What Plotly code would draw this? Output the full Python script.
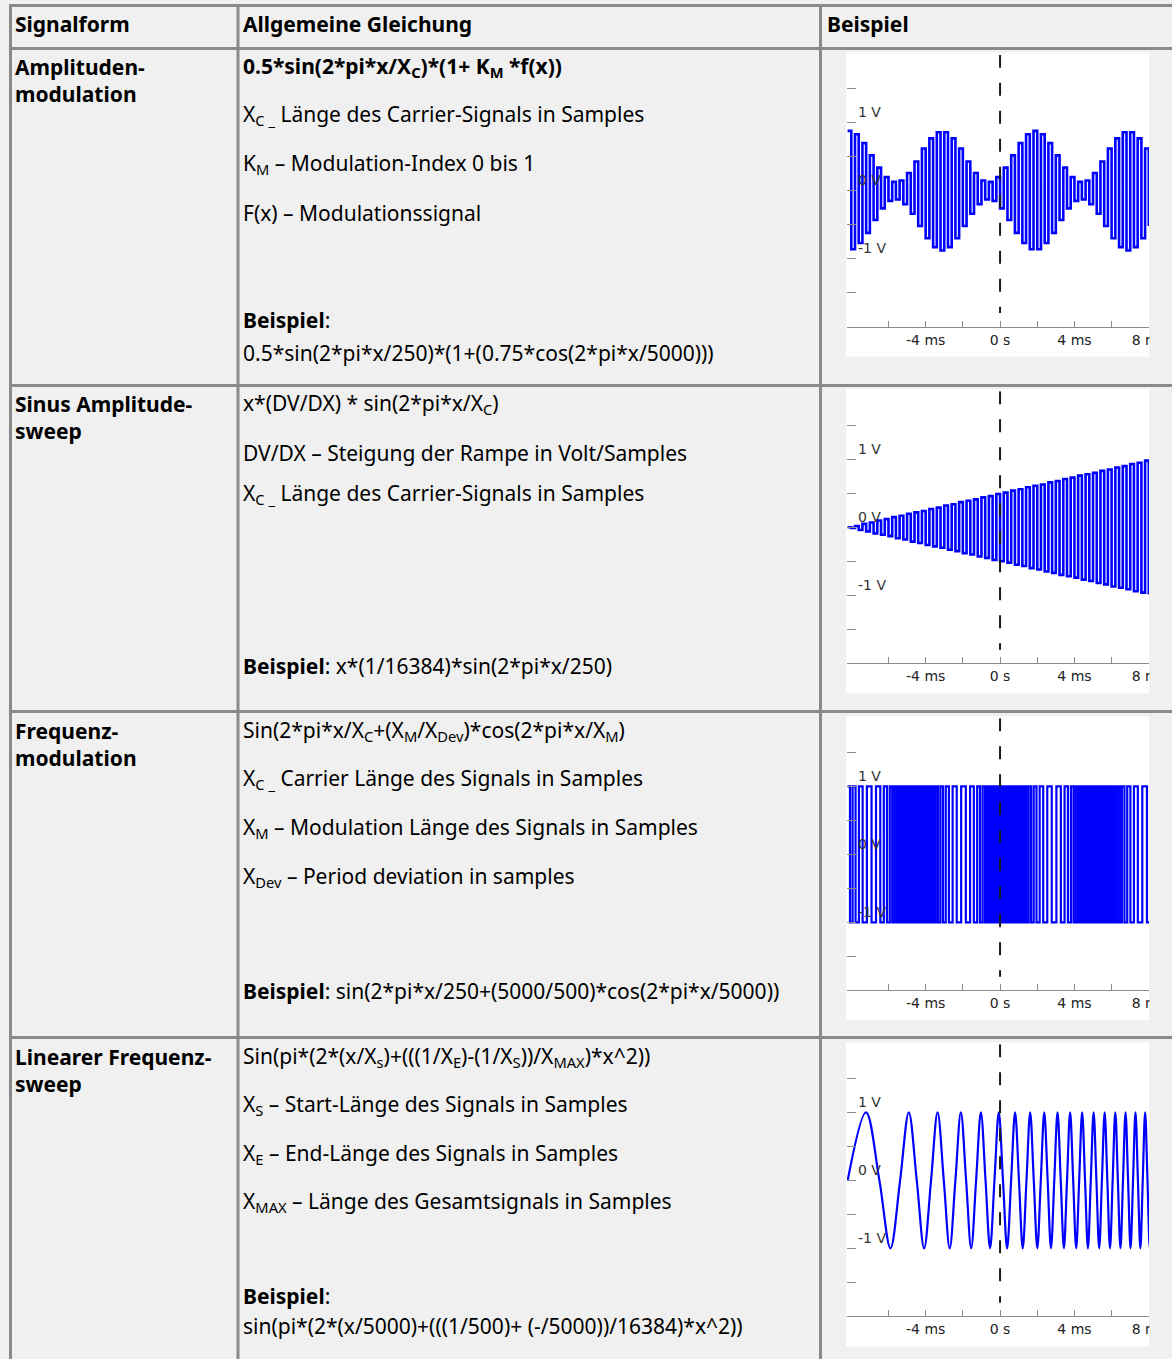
import plotly.graph_objects as go

# ---------------- data ----------------
HEADERS = ["Signalform", "Allgemeine Gleichung", "Beispiel"]
SIGNAL_NAMES = [
    "Amplituden-<br>modulation",
    "Sinus Amplitude-<br>sweep",
    "Frequenz-<br>modulation",
    "Linearer Frequenz-<br>sweep",
]
EQUATION_LINES = [
    [
        "<b>0.5*sin(2*pi*x/X<sub>C</sub>)*(1+ K<sub>M</sub> *f(x))</b>",
        "X<sub>C _</sub> Länge des Carrier-Signals in Samples",
        "K<sub>M</sub> – Modulation-Index 0 bis 1",
        "F(x) – Modulationssignal",
        "<b>Beispiel</b>:",
        "0.5*sin(2*pi*x/250)*(1+(0.75*cos(2*pi*x/5000)))",
    ],
    [
        "x*(DV/DX) * sin(2*pi*x/X<sub>C</sub>)",
        "DV/DX – Steigung der Rampe in Volt/Samples",
        "X<sub>C _</sub> Länge des Carrier-Signals in Samples",
        "<b>Beispiel</b>: x*(1/16384)*sin(2*pi*x/250)",
    ],
    [
        "Sin(2*pi*x/X<sub>C</sub>+(X<sub>M</sub>/X<sub>Dev</sub>)*cos(2*pi*x/X<sub>M</sub>)",
        "X<sub>C _</sub> Carrier Länge des Signals in Samples",
        "X<sub>M</sub> – Modulation Länge des Signals in Samples",
        "X<sub>Dev</sub> – Period deviation in samples",
        "<b>Beispiel</b>: sin(2*pi*x/250+(5000/500)*cos(2*pi*x/5000))",
    ],
    [
        "Sin(pi*(2*(x/X<sub>s</sub>)+(((1/X<sub>E</sub>)-(1/X<sub>S</sub>))/X<sub>MAX</sub>)*x^2))",
        "X<sub>S</sub> – Start-Länge des Signals in Samples",
        "X<sub>E</sub> – End-Länge des Signals in Samples",
        "X<sub>MAX</sub> – Länge des Gesamtsignals in Samples",
        "<b>Beispiel</b>:",
        "sin(pi*(2*(x/5000)+(((1/500)+ (-/5000))/16384)*x^2))",
    ],
]

X_TICK_VALUES = [-8, -6, -4, -2, 0, 2, 4, 6, 8]
X_TICK_LABELS = ["", "", "-4 ms", "", "0 s", "", "4 ms", "", "8 ms"]
Y_TICK_VALUES = [-1.5, -1, -0.5, 0, 0.5, 1, 1.5, 2]
Y_TICK_LABELS = ["", "-1 V", "", "0 V", "", "1 V", "", ""]
X_RANGE_MS = [-8.23, 8.01]
Y_RANGE_V = [-2, 2]
TRIGGER_MS = 0

# uniformly sampled displays (one stroke per 0.2 ms)
SAMPLE_START_MS = -8.2
SAMPLE_STEP_MS = 0.2

AM_VALUES = [
    0.88, -0.86, 0.83, -0.77, 0.70, -0.62, 0.52, -0.43, 0.34, -0.26,
    0.20, -0.15, 0.13, -0.13, 0.15, -0.20, 0.26, -0.34, 0.43, -0.52,
    0.62, -0.70, 0.77, -0.83, 0.86, -0.88, 0.86, -0.83, 0.77, -0.70,
    0.62, -0.52, 0.43, -0.34, 0.26, -0.20, 0.15, -0.13, 0.13, -0.15,
    0.20, -0.26, 0.34, -0.43, 0.52, -0.62, 0.70, -0.77, 0.83, -0.86,
    0.88, -0.86, 0.83, -0.77, 0.70, -0.62, 0.52, -0.43, 0.34, -0.26,
    0.20, -0.15, 0.13, -0.13, 0.15, -0.20, 0.26, -0.34, 0.43, -0.52,
    0.62, -0.70, 0.77, -0.83, 0.86, -0.88, 0.86, -0.83, 0.77, -0.70,
    0.62, -0.52,
]

AMP_SWEEP_VALUES = [
    0.00, -0.01, 0.02, -0.04, 0.05, -0.06, 0.07, -0.09, 0.10, -0.11,
    0.12, -0.13, 0.15, -0.16, 0.17, -0.18, 0.20, -0.21, 0.22, -0.23,
    0.24, -0.26, 0.27, -0.28, 0.29, -0.30, 0.32, -0.33, 0.34, -0.35,
    0.37, -0.38, 0.39, -0.40, 0.41, -0.43, 0.44, -0.45, 0.46, -0.48,
    0.49, -0.50, 0.51, -0.52, 0.54, -0.55, 0.56, -0.57, 0.59, -0.60,
    0.61, -0.62, 0.63, -0.65, 0.66, -0.67, 0.68, -0.70, 0.71, -0.72,
    0.73, -0.74, 0.76, -0.77, 0.78, -0.79, 0.80, -0.82, 0.83, -0.84,
    0.85, -0.87, 0.88, -0.89, 0.90, -0.91, 0.93, -0.94, 0.95, -0.96,
    0.98, -0.99,
]

FM_TIMES = [
    -8.20, -8.07, -7.93, -7.77, -7.59, -7.39, -7.16, -6.91, -6.67, -6.44,
    -6.25, -6.08, -5.93, -5.80, -5.68, -5.56, -5.46, -5.36, -5.26, -5.17,
    -5.08, -4.99, -4.90, -4.82, -4.73, -4.65, -4.57, -4.48, -4.40, -4.32,
    -4.23, -4.14, -4.06, -3.97, -3.87, -3.78, -3.68, -3.57, -3.46, -3.34,
    -3.21, -3.07, -2.92, -2.75, -2.55, -2.33, -2.09, -1.84, -1.61, -1.41,
    -1.23, -1.08, -0.94, -0.81, -0.70, -0.59, -0.48, -0.39, -0.29, -0.20,
    -0.11, -0.02, 0.06, 0.15, 0.23, 0.32, 0.40, 0.48, 0.57, 0.65,
    0.74, 0.83, 0.92, 1.01, 1.11, 1.21, 1.31, 1.42, 1.54, 1.67,
    1.81, 1.96, 2.13, 2.32, 2.54, 2.78, 3.03, 3.27, 3.47, 3.65,
    3.81, 3.95, 4.07, 4.19, 4.30, 4.41, 4.50, 4.60, 4.69, 4.78,
    4.87, 4.95, 5.04, 5.12, 5.21, 5.29, 5.37, 5.46, 5.54, 5.63,
    5.72, 5.81, 5.90, 6.00, 6.10, 6.20, 6.31, 6.43, 6.55, 6.69,
    6.84, 7.01, 7.20, 7.41, 7.65, 7.90, 8.14,
]
FM_LEVELS = [
    1, -1, 1, -1, 1, -1, 1, -1, 1, -1,
    1, -1, 1, -1, 1, -1, 1, -1, 1, -1,
    1, -1, 1, -1, 1, -1, 1, -1, 1, -1,
    1, -1, 1, -1, 1, -1, 1, -1, 1, -1,
    1, -1, 1, -1, 1, -1, 1, -1, 1, -1,
    1, -1, 1, -1, 1, -1, 1, -1, 1, -1,
    1, -1, 1, -1, 1, -1, 1, -1, 1, -1,
    1, -1, 1, -1, 1, -1, 1, -1, 1, -1,
    1, -1, 1, -1, 1, -1, 1, -1, 1, -1,
    1, -1, 1, -1, 1, -1, 1, -1, 1, -1,
    1, -1, 1, -1, 1, -1, 1, -1, 1, -1,
    1, -1, 1, -1, 1, -1, 1, -1, 1, -1,
    1, -1, 1, -1, 1, -1, 1,
]

LIN_SWEEP_TIMES = [
    -8.192, -7.208, -6.489, -5.893, -5.374, -4.907, -4.479, -4.082, -3.710, -3.359,
    -3.025, -2.707, -2.401, -2.108, -1.825, -1.552, -1.287, -1.030, -0.780, -0.537,
    -0.300, -0.068, 0.158, 0.380, 0.596, 0.809, 1.017, 1.221, 1.422, 1.620,
    1.813, 2.004, 2.192, 2.377, 2.560, 2.739, 2.917, 3.091, 3.264, 3.434,
    3.602, 3.769, 3.933, 4.095, 4.255, 4.414, 4.571, 4.726, 4.880, 5.032,
    5.182, 5.331, 5.479, 5.625, 5.770, 5.913, 6.056, 6.197, 6.336, 6.475,
    6.612, 6.749, 6.884, 7.018, 7.151, 7.283, 7.414, 7.545, 7.674, 7.802,
    7.929, 8.055, 8.181,
]
LIN_SWEEP_LEVELS = [
    0, 1, 0, -1, 0, 1, 0, -1, 0, 1,
    0, -1, 0, 1, 0, -1, 0, 1, 0, -1,
    0, 1, 0, -1, 0, 1, 0, -1, 0, 1,
    0, -1, 0, 1, 0, -1, 0, 1, 0, -1,
    0, 1, 0, -1, 0, 1, 0, -1, 0, 1,
    0, -1, 0, 1, 0, -1, 0, 1, 0, -1,
    0, 1, 0, -1, 0, 1, 0, -1, 0, 1,
    0, -1, 0,
]

# ---------------- layout geometry (pixels) ----------------
W, H = 1172, 1359
FONT = "Noto Sans"
TEXT_SIZE = 21
BORDER = "#8a8a8a"
CELL_BG = "#f0f0f0"
WAVE = "#0000ff"


def px(x):
    return x / W


def py(y):
    return 1 - y / H


H_BORDERS = [5.5, 48.5, 385.5, 711.5, 1037.5]
V_BORDERS = [10.5, 238, 820.5]
COL_TEXT_X = [13, 241, 825]
HEADER_Y = 24
NAME_Y = [80, 417, 744, 1070]
LINE_Y = [
    [67, 115, 164, 213, 320, 353],
    [404, 453, 494, 666],
    [731, 779, 828, 877, 991],
    [1057, 1105, 1154, 1202, 1296, 1326],
]
AXIS_BOTTOM = [326.7, 663.3, 990.3, 1316.3]
AXIS_HEIGHT = 272
CHART_LEFT, CHART_RIGHT = 847, 1149
WAVE_WIDTH = [2.6, 2.6, 2.2, 2.2]

fig = go.Figure()

shapes = []
annotations = []


def text(s, x, y, bold=False):
    annotations.append(dict(text=f"<b>{s}</b>" if bold else s, x=px(x), y=py(y),
                            xref="paper", yref="paper", xanchor="left", yanchor="middle",
                            align="left", showarrow=False,
                            font=dict(family=FONT, size=TEXT_SIZE, color="black")))


# chart white panels
for b in AXIS_BOTTOM:
    shapes.append(dict(type="rect", xref="paper", yref="paper",
                       x0=px(CHART_LEFT - 1), x1=px(CHART_RIGHT),
                       y0=py(b + 30), y1=py(b - AXIS_HEIGHT - 2),
                       fillcolor="white", line=dict(width=0), layer="below"))
    # clip overflowing right tick label like the reference widget
    shapes.append(dict(type="rect", xref="paper", yref="paper",
                       x0=px(CHART_RIGHT + 0.5), x1=1,
                       y0=py(b + 30), y1=py(b - AXIS_HEIGHT - 2),
                       fillcolor=CELL_BG, line=dict(width=0), layer="above"))

# table borders
for y in H_BORDERS:
    shapes.append(dict(type="line", xref="paper", yref="paper",
                       x0=px(9), x1=1, y0=py(y), y1=py(y),
                       line=dict(color=BORDER, width=3), layer="below"))
for x in V_BORDERS:
    shapes.append(dict(type="line", xref="paper", yref="paper",
                       x0=px(x), x1=px(x), y0=py(4), y1=0,
                       line=dict(color=BORDER, width=3), layer="below"))

# header texts
for name, x in zip(HEADERS, COL_TEXT_X):
    text(name, x, HEADER_Y, bold=True)

for r in range(4):
    text(SIGNAL_NAMES[r], COL_TEXT_X[0], NAME_Y[r], bold=True)
    for line, y in zip(EQUATION_LINES[r], LINE_Y[r]):
        text(line, COL_TEXT_X[1], y)

# waveforms
traces = [
    dict(y=AM_VALUES, x0=SAMPLE_START_MS, dx=SAMPLE_STEP_MS, line_shape="hv"),
    dict(y=AMP_SWEEP_VALUES, x0=SAMPLE_START_MS, dx=SAMPLE_STEP_MS, line_shape="hv"),
    dict(x=FM_TIMES, y=FM_LEVELS, line_shape="hv"),
    dict(x=LIN_SWEEP_TIMES, y=LIN_SWEEP_LEVELS, line_shape="spline"),
]

layout_axes = {}
for i, b in enumerate(AXIS_BOTTOM):
    n = "" if i == 0 else str(i + 1)
    t = traces[i]
    shape = t.pop("line_shape")
    fig.add_trace(go.Scatter(**t, mode="lines", xaxis="x" + n, yaxis="y" + n,
                             line=dict(color=WAVE, width=WAVE_WIDTH[i], shape=shape),
                             hoverinfo="skip", showlegend=False))
    layout_axes["xaxis" + n] = dict(
        domain=[px(CHART_LEFT), px(CHART_RIGHT)], range=X_RANGE_MS, anchor="y" + n,
        automargin=False,
        showline=True, linecolor="#8c8c8c", linewidth=1,
        ticks="inside", ticklen=6, tickcolor="#8c8c8c", tickwidth=1,
        tickvals=X_TICK_VALUES, ticktext=X_TICK_LABELS,
        tickfont=dict(family="DejaVu Sans", size=14, color="#222222"),
        showgrid=False, zeroline=False, fixedrange=True)
    layout_axes["yaxis" + n] = dict(
        domain=[py(b), py(b - AXIS_HEIGHT)], range=Y_RANGE_V, anchor="x" + n,
        automargin=False,
        showline=False, ticks="inside", ticklen=9, tickcolor="#8c8c8c", tickwidth=1,
        tickvals=Y_TICK_VALUES, ticktext=Y_TICK_LABELS,
        ticklabelposition="inside top", ticklabelstandoff=8,
        tickfont=dict(family="DejaVu Sans", size=14, color="#333333"),
        showgrid=False, zeroline=False, fixedrange=True)
    shapes.append(dict(type="line", xref="x" + n, yref="y" + n,
                       x0=TRIGGER_MS, x1=TRIGGER_MS, y0=Y_RANGE_V[1], y1=Y_RANGE_V[0] + 0.2,
                       line=dict(color="#1a1a1a", width=2, dash="13px,15px"), layer="above"))

fig.update_layout(
    width=W, height=H, autosize=False,
    margin=dict(l=0, r=0, t=0, b=0, pad=0, autoexpand=False),
    paper_bgcolor=CELL_BG, plot_bgcolor="white",
    shapes=shapes, annotations=annotations, showlegend=False,
    **layout_axes,
)

fig.write_html(
    "out.html",
    config={"responsive": False, "displayModeBar": False},
    post_script=(
        "document.body.style.margin='0';document.body.style.padding='0';"
        "document.body.style.overflow='hidden';"
    ),
)
